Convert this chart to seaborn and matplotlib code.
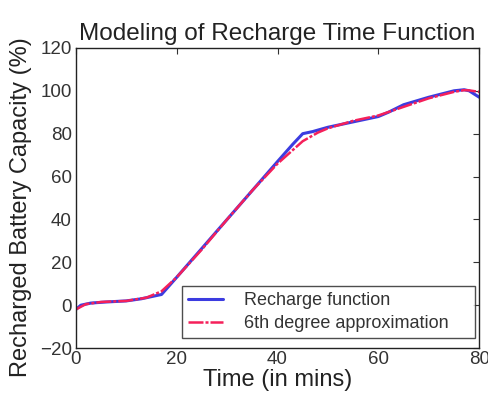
import matplotlib
matplotlib.use("Agg")
import matplotlib.pyplot as plt
import seaborn as sns
import pandas as pd

# Recharge function (blue)
t_recharge = [0, 1, 3, 6, 10, 13, 15, 17, 20, 25, 30, 35, 40, 43, 45, 47, 50, 55, 60, 62, 65, 70, 75, 77, 78, 80]
cap_recharge = [-2, 0, 1, 1.5, 2, 3, 4, 5, 13, 26.5, 40, 53.5, 67, 75, 80, 81, 83, 85.5, 88, 90, 93.5, 97, 100, 100.5, 100, 97]

# 6th degree approximation (red)
t_approx = [0, 2, 5, 10, 14, 17, 20, 25, 30, 35, 40, 45, 48, 50, 55, 60, 65, 70, 75, 77, 78, 80]
cap_approx = [-2, 0.5, 1.5, 2, 3.5, 6.5, 13, 26, 40, 53.5, 66, 76.5, 80.5, 82.5, 86, 88.5, 92.5, 96.5, 99.5, 100.3, 100.2, 99.5]

title = "Modeling of Recharge Time Function"
xlabel = "Time (in mins)"
ylabel = "Recharged Battery Capacity (%)"
xticks = [0, 20, 40, 60, 80]
yticks = [-20, 0, 20, 40, 60, 80, 100, 120]

sns.set_style("white")
plt.rcParams['font.family'] = ['Liberation Sans', 'DejaVu Sans']

fig = plt.figure(figsize=(4.89, 3.96), dpi=100)
ax = fig.add_axes([0.155, 0.121, 0.825, 0.758])

df_r = pd.DataFrame({"t": t_recharge, "c": cap_recharge})
df_a = pd.DataFrame({"t": t_approx, "c": cap_approx})

sns.lineplot(data=df_r, x="t", y="c", ax=ax, color="#3c3ce0", linewidth=2.2,
             label="Recharge function")
sns.lineplot(data=df_a, x="t", y="c", ax=ax, color="#f5205a", linewidth=1.8,
             linestyle=(0, (6, 0.8, 1.2, 0.8)), label="6th degree approximation")

ax.set_xlim(0, 80)
ax.set_ylim(-20, 120)
ax.set_xticks(xticks)
ax.set_yticks(yticks)
ax.tick_params(direction="in", top=True, right=True, length=4, width=0.8,
               labelsize=13.5, colors="#333333")
ax.tick_params(axis="y", pad=3)
ax.tick_params(axis="x", pad=2)
for s in ax.spines.values():
    s.set_color("#222222")
    s.set_linewidth(1.0)
ax.set_xlabel(xlabel, fontsize=17, labelpad=1, color="#222222")
ax.set_ylabel(ylabel, fontsize=17, color="#222222")
ax.yaxis.set_label_coords(-0.108, 0.47)
ax.set_title(title, fontsize=17.5, pad=6, color="#222222")

leg = ax.legend(loc="lower left", bbox_to_anchor=(0.263, 0.033, 0.727, 0.173),
                mode="expand", fontsize=13,
                frameon=True, fancybox=False, edgecolor="#222222",
                borderpad=0.35, handlelength=1.9, labelspacing=0.3, handletextpad=1.2,
                borderaxespad=0.0)
leg.get_frame().set_linewidth(1.0)
for txt in leg.get_texts():
    txt.set_color("#333333")

fig.savefig("out.png", dpi=100)
